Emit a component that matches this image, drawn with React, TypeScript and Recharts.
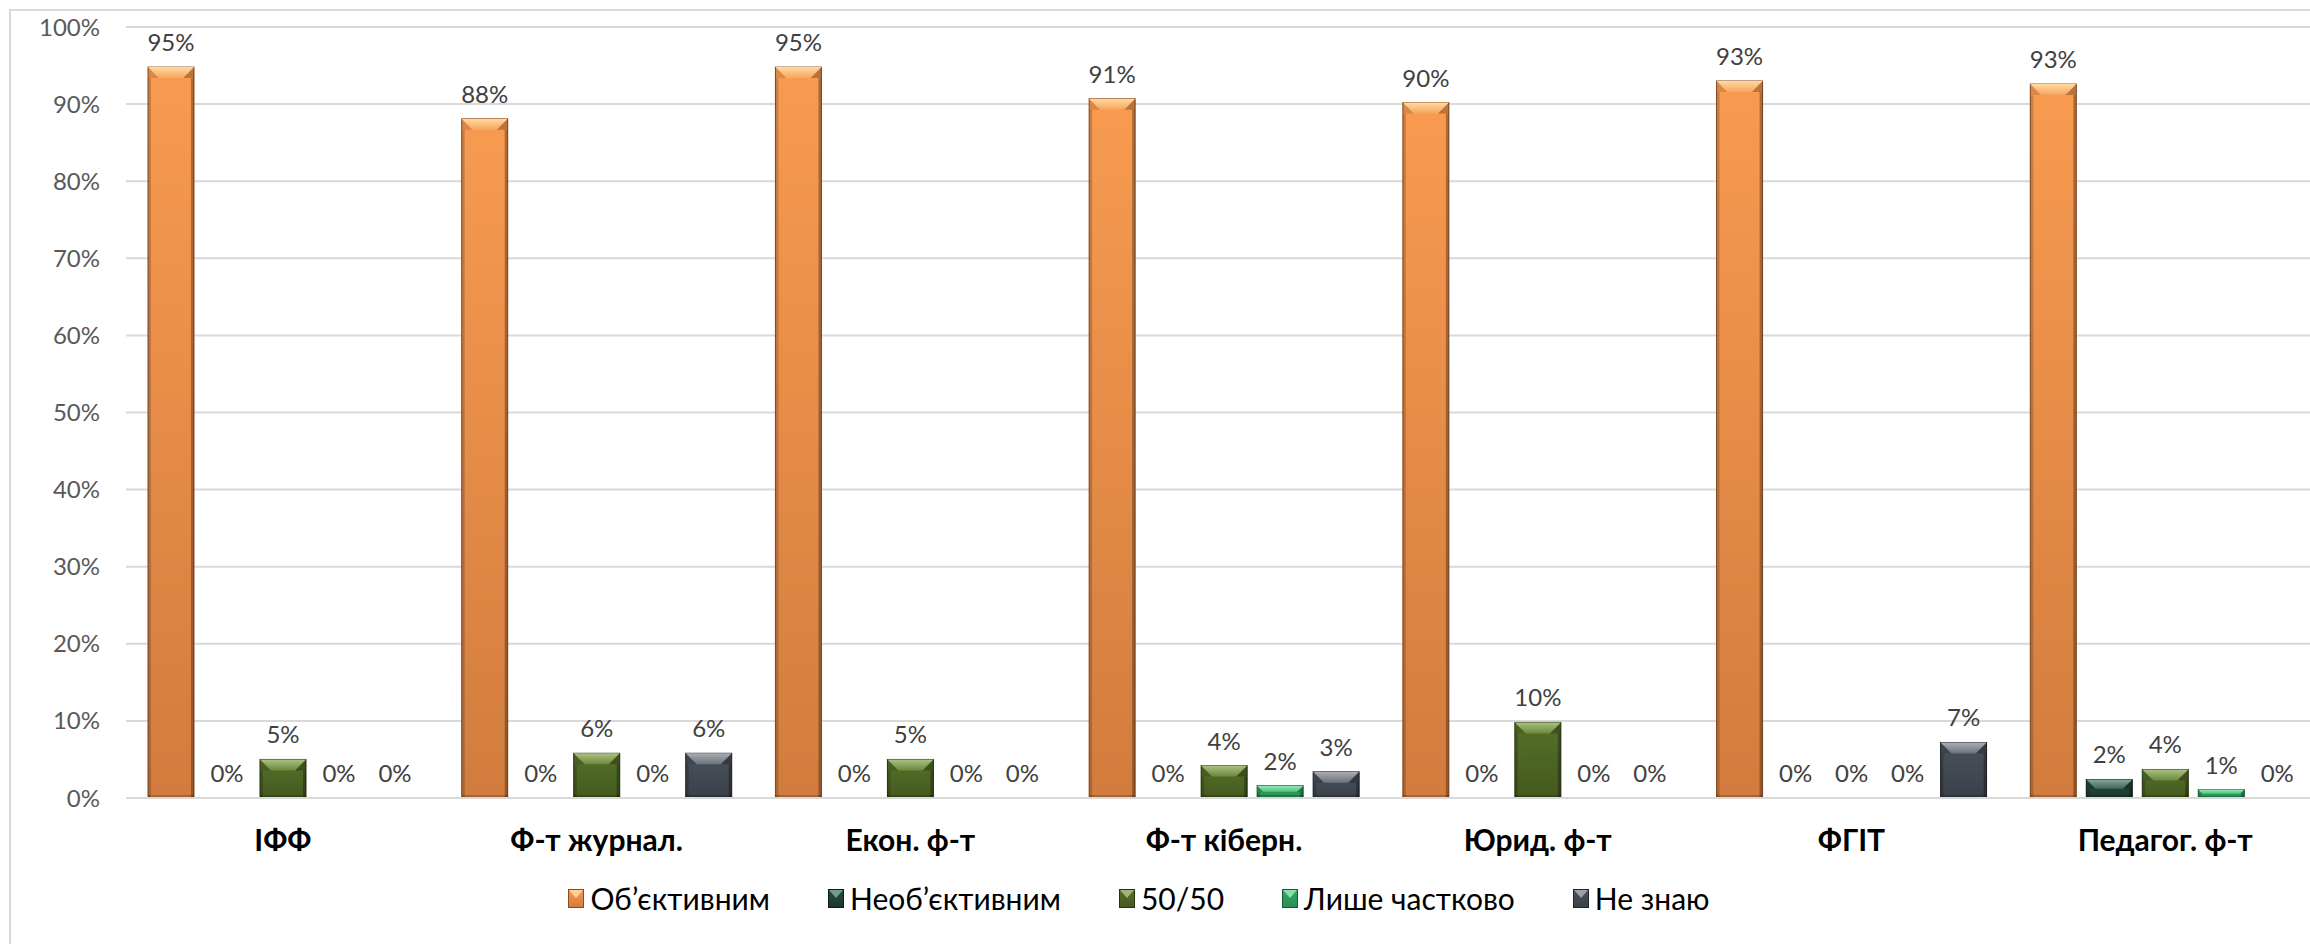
import { BarChart, Bar, XAxis, YAxis, CartesianGrid, LabelList } from "recharts";

const categories = [
  "ІФФ",
  "Ф-т журнал.",
  "Екон. ф-т",
  "Ф-т кіберн.",
  "Юрид. ф-т",
  "ФГІТ",
  "Педагог. ф-т",
];

// values in percent
const objective = [94.8, 88.1, 94.8, 90.7, 90.2, 93.0, 92.6];
const notObjective = [0, 0, 0, 0, 0, 0, 2.4];
const fiftyFifty = [5.0, 5.8, 5.0, 4.2, 9.8, 0, 3.7];
const partly = [0, 0, 0, 1.6, 0, 0, 1.1];
const dontKnow = [0, 5.8, 0, 3.4, 0, 7.2, 0];

const yTicks = [0, 10, 20, 30, 40, 50, 60, 70, 80, 90, 100];

type Pal = { top: string; bottom: string; bevTop: string; bevBottom: string; edge: string };

const SERIES: { key: string; name: string; values: number[]; pal: Pal }[] = [
  {
    key: "obj",
    name: "Об’єктивним",
    values: objective,
    pal: { top: "#F89B51", bottom: "#D17C3E", bevTop: "#FFD9A0", bevBottom: "#F7A55E", edge: "#8A4A1E" },
  },
  {
    key: "notObj",
    name: "Необ’єктивним",
    values: notObjective,
    pal: { top: "#26493E", bottom: "#1C382F", bevTop: "#84A89A", bevBottom: "#3F6658", edge: "#0E1F19" },
  },
  {
    key: "half",
    name: "50/50",
    values: fiftyFifty,
    pal: { top: "#55702A", bottom: "#44591E", bevTop: "#AAC283", bevBottom: "#6B883A", edge: "#27350D" },
  },
  {
    key: "partly",
    name: "Лише частково",
    values: partly,
    pal: { top: "#35A867", bottom: "#2A8C54", bevTop: "#93EBB4", bevBottom: "#4FC47F", edge: "#185A33" },
  },
  {
    key: "dk",
    name: "Не знаю",
    values: dontKnow,
    pal: { top: "#49515B", bottom: "#3A414A", bevTop: "#AAAFB6", bevBottom: "#6B7179", edge: "#20252B" },
  },
];

const chartData = categories.map((name, i) => {
  const row: Record<string, string | number> = { name };
  SERIES.forEach((s) => {
    row[s.key] = s.values[i];
  });
  return row;
});

const FONT = "Lato, 'Open Sans', sans-serif";

function Bevel({ x, y, width: w, height: h, k }: any) {
  if (!h || h <= 0) return <g />;
  const b = Math.min(11, h / 2, w / 4);
  const s = Math.min(3, w / 10);
  return (
    <g>
      <rect x={x} y={y} width={w} height={h} fill={`url(#body-${k})`} stroke={`url(#edge-${k})`} strokeWidth={1} />
      <rect x={x} y={y + b} width={s} height={Math.max(0, h - b)} fill="#000" opacity={0.18} />
      <rect x={x + w - s} y={y + b} width={s} height={Math.max(0, h - b)} fill="#000" opacity={0.3} />
      <rect x={x} y={y + h - Math.min(3, h / 4)} width={w} height={Math.min(3, h / 4)} fill="#000" opacity={0.2} />
      <polygon points={`${x},${y} ${x + b},${y + b} ${x},${y + b}`} fill="#000" opacity={0.12} />
      <polygon points={`${x + w},${y} ${x + w - b},${y + b} ${x + w},${y + b}`} fill="#000" opacity={0.25} />
      <polygon
        points={`${x},${y} ${x + w},${y} ${x + w - b},${y + b} ${x + b},${y + b}`}
        fill={`url(#bev-${k})`}
      />
    </g>
  );
}

function LegendIcon({ k, pal }: { k: string; pal: Pal }) {
  return (
    <svg width={16} height={19} style={{ display: "block" }}>
      <defs>
        <linearGradient id={`lg-${k}`} x1="0" y1="0" x2="0" y2="1">
          <stop offset="0%" stopColor={pal.top} />
          <stop offset="100%" stopColor={pal.bottom} />
        </linearGradient>
      </defs>
      <rect x={0.5} y={0.5} width={15} height={18} fill={`url(#lg-${k})`} stroke={pal.edge} strokeWidth={1} />
      <polygon points="1,1 15,1 8,9" fill={pal.bevTop} opacity={0.85} />
    </svg>
  );
}

export default function App() {
  return (
    <div
      style={{
        position: "fixed",
        left: 0,
        top: 0,
        width: 2310,
        height: 944,
        overflow: "hidden",
        background: "#fff",
      }}
    >
      <div
        style={{
          position: "absolute",
          left: 9,
          top: 9,
          width: 2344,
          height: 990,
          border: "2px solid #D9D9D9",
          background: "#fff",
        }}
      >
        <BarChart
          width={2340}
          height={986}
          data={chartData}
          margin={{ top: 16, right: 29, bottom: 139, left: 0 }}
          barSize={46}
          barGap={10}
        >
          <defs>
            {SERIES.map((s) => (
              <g key={s.key}>
                <linearGradient id={`body-${s.key}`} x1="0" y1="0" x2="0" y2="1">
                  <stop offset="0%" stopColor={s.pal.top} />
                  <stop offset="100%" stopColor={s.pal.bottom} />
                </linearGradient>
                <linearGradient id={`bev-${s.key}`} x1="0" y1="0" x2="0" y2="1">
                  <stop offset="0%" stopColor={s.pal.bevTop} />
                  <stop offset="100%" stopColor={s.pal.bevBottom} />
                </linearGradient>
                <linearGradient id={`edge-${s.key}`} x1="0" y1="0" x2="1" y2="0">
                  <stop offset="0%" stopColor={s.pal.edge} />
                  <stop offset="100%" stopColor={s.pal.edge} />
                </linearGradient>
              </g>
            ))}
          </defs>
          <CartesianGrid vertical={false} stroke="#D9D9D9" strokeWidth={2} />
          <XAxis
            dataKey="name"
            height={60}
            tickLine={false}
            tickSize={0}
            tickMargin={32}
            axisLine={{ stroke: "#D9D9D9", strokeWidth: 2 }}
            tick={{ fontSize: 30, fontWeight: 700, fill: "#000", fontFamily: FONT }}
          />
          <YAxis
            width={115}
            domain={[0, 100]}
            ticks={yTicks}
            tickFormatter={(v) => `${v}%`}
            axisLine={false}
            tickLine={false}
            tickSize={0}
            tickMargin={26}
            tick={{ fontSize: 24, fill: "#595959", fontFamily: FONT }}
          />
          {SERIES.map((s) => (
            <Bar
              key={s.key}
              dataKey={s.key}
              name={s.name}
              fill={s.pal.top}
              isAnimationActive={false}
              shape={(p: any) => <Bevel {...p} k={s.key} />}
            >
              <LabelList
                dataKey={s.key}
                position="top"
                offset={16}
                formatter={(v: any) => `${Math.round(Number(v))}%`}
                fill="#404040"
                fontSize={24}
                fontFamily={FONT}
              />
            </Bar>
          ))}
        </BarChart>
        <div
          style={{
            position: "absolute",
            left: 0,
            top: 869,
            width: 2256,
            height: 36,
            display: "flex",
            justifyContent: "center",
            alignItems: "center",
            gap: 58,
            fontFamily: FONT,
            fontSize: 30,
            color: "#000",
          }}
        >
          {SERIES.map((s) => (
            <div key={s.key} style={{ display: "flex", alignItems: "center", gap: 6 }}>
              <LegendIcon k={s.key} pal={s.pal} />
              <span>{s.name}</span>
            </div>
          ))}
        </div>
      </div>
    </div>
  );
}
